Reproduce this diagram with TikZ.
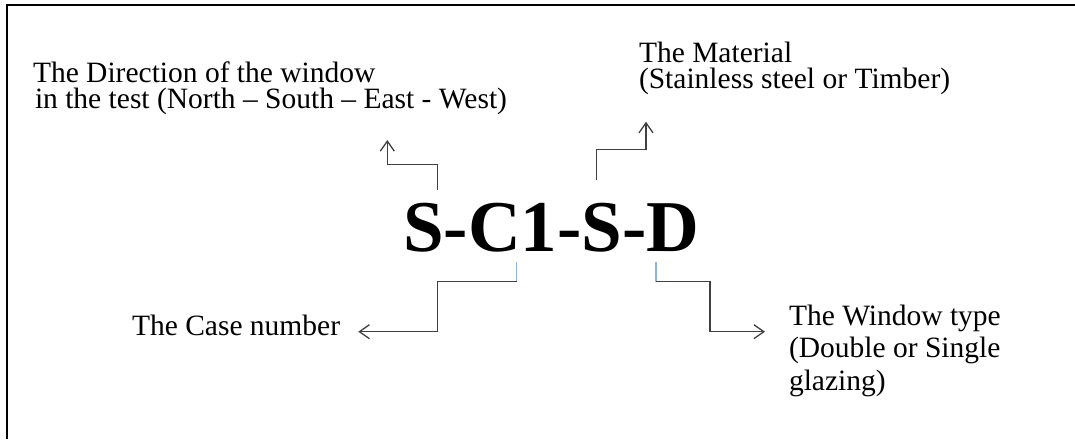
\documentclass[tikz,border=0pt]{standalone}
\usepackage{fontspec}
\setmainfont{Liberation Serif}
\usetikzlibrary{arrows.meta}
\definecolor{conn}{HTML}{404040}
\definecolor{lblue}{HTML}{8EB4E3}
\begin{document}
\begin{tikzpicture}[x=1pt,y=-1pt,
  lbl/.style={inner sep=0pt, outer sep=0pt, anchor=base west, align=left, font=\fontsize{29.5}{25.6}\selectfont},
  lblwide/.style={lbl, font=\fontsize{29.5}{32.5}\selectfont},
  conline/.style={draw=conn, line width=1.3pt},
  tipline/.style={conline, -{Straight Barb[length=10pt,width=14pt,line width=1.3pt]}},
  bluestub/.style={draw=lblue, line width=1.3pt}]
\useasboundingbox (0,0) rectangle (1075,439);
% frame (only top and left edges visible)
\draw[line width=2.4pt] (7,439) -- (7,5) -- (1076,5);
% main code
\node[inner sep=0pt, anchor=base west, font=\fontsize{73}{80}\selectfont\bfseries] (code) at (403,251.7) {S-C1-S-D};
% labels (base anchor = baseline of the last line)
\node[lbl] (dir) at (33,108.3) {The Direction of the window\\\hspace*{2pt}in the test (North -- South -- East - West)};
\node[lbl] (mat) at (639,88.3) {The Material\\(Stainless steel or Timber)};
\node[lbl] (case) at (132,335) {The Case number};
\node[lblwide] (wtype) at (789,390) {The Window type\\(Double or Single\\glazing)};
% connector coordinates
\coordinate (dirS) at (437.5,190);
\coordinate (dirE) at (387.3,140);
\coordinate (matS) at (596.7,180);
\coordinate (matE) at (646,121.7);
\coordinate (caseS) at (516.7,261.7);
\coordinate (caseM) at (516.7,281.7);
\coordinate (caseE) at (358.3,331.7);
\coordinate (wS) at (656,261.7);
\coordinate (wM) at (656,281.7);
\coordinate (wE) at (765,331.7);
% connectors
\draw[tipline] (dirS) |- (412,164.3) -| (dirE);
\draw[tipline] (matS) |- (620,149.3) -| (matE);
\draw[bluestub] (caseS) -- (caseM);
\draw[tipline] (caseM) -| (437.3,306) |- (caseE);
\draw[bluestub] (wS) -- (wM);
\draw[tipline] (wM) -| (710,306) |- (wE);
\end{tikzpicture}
\end{document}
